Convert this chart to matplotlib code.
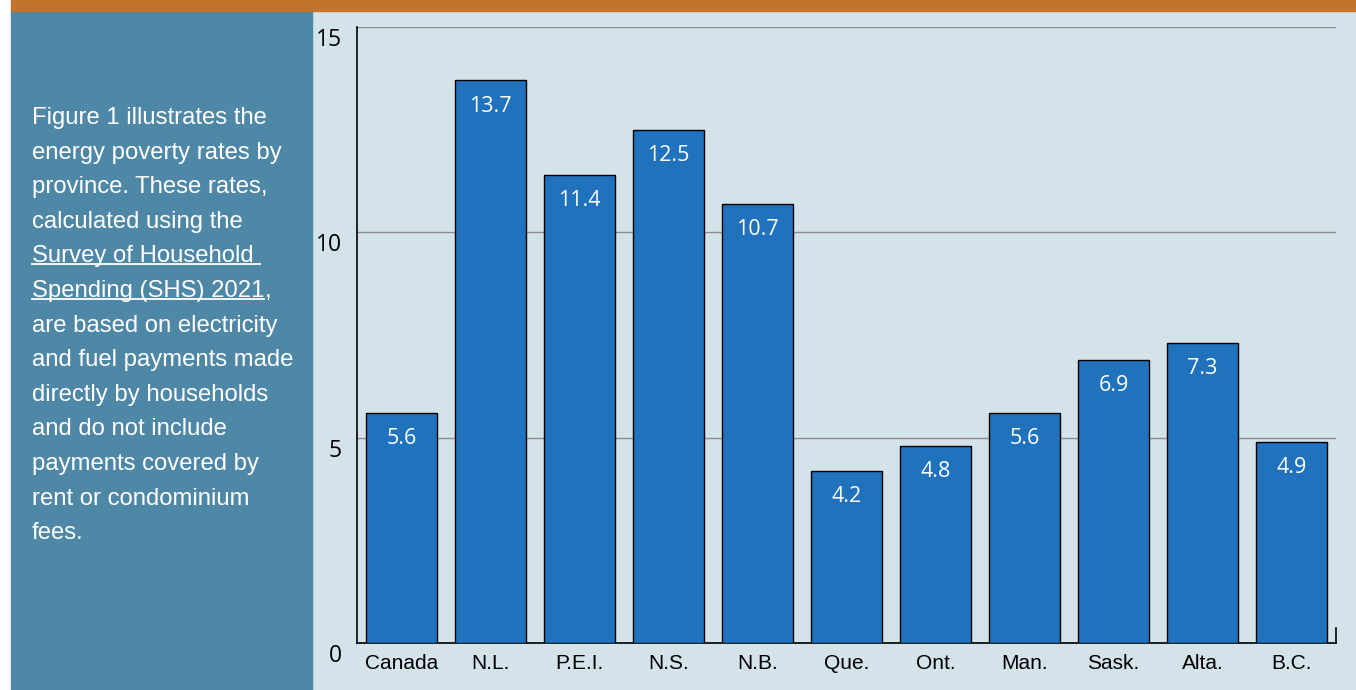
import matplotlib
matplotlib.use('Agg')
import matplotlib.pyplot as plt
from matplotlib.patches import Rectangle
from matplotlib.lines import Line2D
from matplotlib.transforms import ScaledTranslation

# Data
provinces = ['Canada', 'N.L.', 'P.E.I.', 'N.S.', 'N.B.', 'Que.', 'Ont.',
             'Man.', 'Sask.', 'Alta.', 'B.C.']
rates = [5.6, 13.7, 11.4, 12.5, 10.7, 4.2, 4.8, 5.6, 6.9, 7.3, 4.9]
y_ticks = [0, 5, 10, 15]

side_lines = [
    'Figure 1 illustrates the',
    'energy poverty rates by',
    'province. These rates,',
    'calculated using the',
    'Survey of Household ',
    'Spending (SHS) 2021',
    'are based on electricity',
    'and fuel payments made',
    'directly by households',
    'and do not include',
    'payments covered by',
    'rent or condominium',
    'fees.',
]
underlined = {4, 5}

W, H = 1356, 690
fig = plt.figure(figsize=(W / 100, H / 100), dpi=100)

# Background panels
fig.patches.append(Rectangle((0, 0), 1, 1, transform=fig.transFigure,
                             color='white', zorder=-10))
fig.patches.append(Rectangle((312 / W, 0), 1 - 312 / W, 679 / H,
                             transform=fig.transFigure, color='#d4e2ea', zorder=-9))
fig.patches.append(Rectangle((11 / W, 0), 301 / W, 679 / H,
                             transform=fig.transFigure, color='#4f88a7', zorder=-9))
fig.patches.append(Rectangle((11 / W, 679 / H), 1 - 11 / W, 11 / H,
                             transform=fig.transFigure, color='#c3732b', zorder=-9))

# Chart
ax = fig.add_axes([357 / W, 47 / H, (1336 - 357) / W, (643 - 27) / H])
ax.set_facecolor('none')
x = range(len(provinces))
bars = ax.bar(x, rates, width=0.8, color='#1f72bb', edgecolor='black',
              linewidth=1.0, zorder=3)
for b, v in zip(bars, rates):
    ax.annotate(f'{v}', (b.get_x() + b.get_width() / 2, v),
                xytext=(0, -18.5), textcoords='offset points',
                ha='center', va='center', color='white',
                fontsize=15.5, family='Open Sans', zorder=4)

ax.set_xlim(-0.5, len(provinces) - 0.5)
ax.set_ylim(0, 15)
ax.set_xticks(list(x))
ax.set_xticklabels(provinces, family='Liberation Sans', fontsize=15)
ax.set_yticks(y_ticks)
ax.set_yticklabels([str(t) for t in y_ticks], family='Open Sans', fontsize=16.5)
ax.tick_params(axis='y', length=0, pad=11)
ax.tick_params(axis='x', length=0, pad=8)
shift = ScaledTranslation(0, -10 / 100, fig.dpi_scale_trans)
for lbl in ax.get_yticklabels():
    lbl.set_transform(lbl.get_transform() + shift)

ax.yaxis.grid(True, color='#8c8c8c', linewidth=1.0, zorder=0)
ax.set_axisbelow(True)
for s in ['top', 'right']:
    ax.spines[s].set_visible(False)
ax.spines['left'].set_color('black')
ax.spines['bottom'].set_color('black')
ax.spines['left'].set_linewidth(1.2)
ax.spines['bottom'].set_linewidth(1.2)
ax.add_line(Line2D([1, 1], [0, 0.025], transform=ax.transAxes,
                   color='black', linewidth=1.2, clip_on=False))

# Side text
fs = 17.2
texts = []
for i, line in enumerate(side_lines):
    y = 118 + i * 34.6
    t = fig.text(32 / W, 1 - y / H, line, color='white', fontsize=fs,
                 family='Liberation Sans', ha='left', va='center')
    texts.append(t)

# underline the survey link and add the trailing comma
fig.canvas.draw()
r = fig.canvas.get_renderer()
for i in underlined:
    bb = texts[i].get_window_extent(r)
    yb = bb.y0 + 3
    fig.add_artist(Line2D([bb.x0 / W, bb.x1 / W], [yb / H, yb / H],
                          color='white', linewidth=1.3))
bb = texts[5].get_window_extent(r)
fig.text(bb.x1 / W, 1 - (118 + 5 * 34.6) / H, ',', color='white', fontsize=fs,
         family='Liberation Sans', ha='left', va='center')

fig.savefig('out.png', dpi=100)
